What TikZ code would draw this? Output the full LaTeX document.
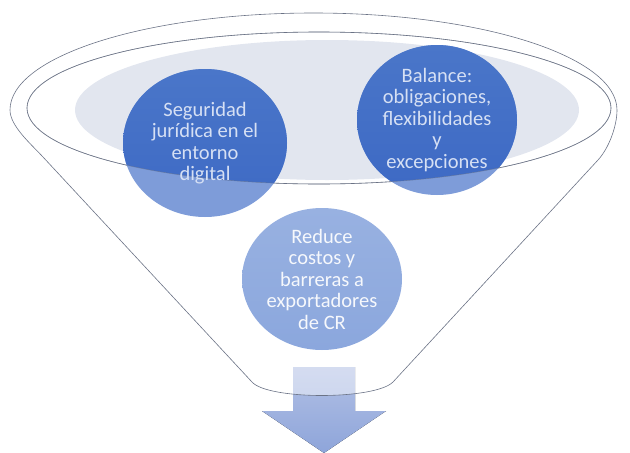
\documentclass[tikz,border=0pt]{standalone}
\usepackage{fontspec}
\setmainfont{Carlito}
\usepackage{xcolor}
\usepackage{tikz}
\usetikzlibrary{calc, shapes.geometric, positioning}

\definecolor{fondogris}{HTML}{E2E6EF}
\definecolor{linea}{HTML}{6B7386}
\definecolor{azuloscuro}{HTML}{3D69C4}
\definecolor{azulosctop}{HTML}{4A76C9}
\definecolor{azulclaro}{HTML}{7E9CD9}
\definecolor{azulmedio}{HTML}{8BA7DD}
\definecolor{azulmedtop}{HTML}{98B1E1}
\definecolor{textoazul}{HTML}{D6E0F4}
\definecolor{flechaarriba}{HTML}{B2C0E5}
\definecolor{flechaabajo}{HTML}{8EA5DA}

\tikzset{
  texto/.style={align=center, text=textoazul, inner sep=0pt,
    font=\fontsize{20.5}{21.5}\selectfont},
  borde/.style={draw=linea, line width=0.6pt},
}

% contorno del embudo
\newcommand{\embudo}{(10,110) arc[start angle=180, end angle=0, x radius=303.5pt, y radius=97pt]
  .. controls (617,126) and (609,148) .. (598,160) -- (393,382)
  .. controls (375,400) and (268,400) .. (252,382) -- (43,157)
  .. controls (31,144) and (10,126) .. (10,110) -- cycle}

\begin{document}
\begin{tikzpicture}[x=1pt, y=-1pt]
  \useasboundingbox (0,0) rectangle (630,453);

  % 1. Puntos de referencia
  \coordinate (aro) at (319,108);
  \coordinate (fondo) at (327,110);
  \coordinate (c1) at (205,143);
  \coordinate (c2) at (437,120);
  \coordinate (c3) at (322,279);

  % 2. Fondo gris de la boca
  \fill[fondogris] (fondo) ellipse[x radius=252pt, y radius=70pt];

  % 3. Flecha de salida
  \fill[top color=flechaarriba, bottom color=flechaabajo]
    (293,367) -- (355,367) -- (355,411) -- (386,411) -- (324,453)
    -- (262,411) -- (293,411) -- cycle;
  \begin{scope}
    \clip \embudo;
    \fill[white, opacity=0.45] (255,360) rectangle (395,400);
  \end{scope}

  % 4. Contornos
  \draw[borde] (aro) ellipse[x radius=292pt, y radius=76pt];
  \draw[borde] \embudo;

  % 5. Circulos
  \fill[azulclaro] (c1) ellipse[x radius=82pt, y radius=74pt];
  \fill[azulclaro] (c2) ellipse[x radius=80pt, y radius=75pt];
  \begin{scope}
    \clip (aro) ellipse[x radius=292pt, y radius=76pt];
    \shade[top color=azulosctop, bottom color=azuloscuro] (c1) ellipse[x radius=82pt, y radius=74pt];
    \shade[top color=azulosctop, bottom color=azuloscuro] (c2) ellipse[x radius=80pt, y radius=75pt];
  \end{scope}
  \draw[borde, opacity=0.5] (aro) ellipse[x radius=292pt, y radius=76pt];
  \shade[top color=azulmedtop, bottom color=azulmedio] (c3) ellipse[x radius=80pt, y radius=71pt];

  % 6. Textos
  \node[texto] (seguridad) at (c1) {Seguridad\\jurídica en el\\entorno\\digital};
  \node[texto] (balance) at (c2) {Balance:\\obligaciones,\\flexibilidades\\y\\excepciones};
  \node[texto, text=white!92!azulmedio] (reduce) at (c3) {Reduce\\costos y\\barreras a\\exportadores\\de CR};
\end{tikzpicture}
\end{document}
